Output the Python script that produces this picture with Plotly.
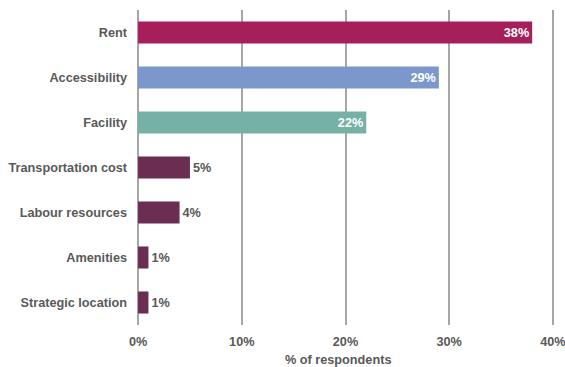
import plotly.graph_objects as go

categories = ["Rent", "Accessibility", "Facility", "Transportation cost",
              "Labour resources", "Amenities", "Strategic location"]
values = [38, 29, 22, 5, 4, 1, 1]
bar_colors = ["#A61E5A", "#7B97CB", "#76B1A6", "#6B2D52", "#6B2D52", "#6B2D52", "#6B2D52"]
label_pos = ["inside", "inside", "inside", "outside", "outside", "outside", "outside"]
label_colors = ["white", "white", "white", "#595959", "#595959", "#595959", "#595959"]
tick_vals = [0, 10, 20, 30, 40]
tick_text = ["0%", "10%", "20%", "30%", "40%"]
x_title = "% of respondents"

FONT = "Liberation Sans"
GREY = "#595959"
FS = 12.7

fig = go.Figure(go.Bar(
    y=categories,
    x=values,
    orientation="h",
    marker=dict(color=bar_colors, line=dict(width=0)),
    width=0.49,
    text=[f"{v}%" for v in values],
    textposition=label_pos,
    insidetextanchor="end",
    textfont=dict(family=FONT, size=FS, color=label_colors, weight="bold"),
    cliponaxis=False,
    constraintext="none",
))

fig.add_annotation(
    text=x_title, xref="paper", yref="paper", x=0.481, y=0,
    xanchor="center", yanchor="middle", yshift=-35, showarrow=False,
    font=dict(family=FONT, size=FS, color=GREY, weight="bold"),
)

fig.update_layout(
    width=565, height=367,
    margin=dict(l=136, r=10, t=10, b=42),
    plot_bgcolor="white", paper_bgcolor="white",
    showlegend=False,
    font=dict(family=FONT, size=FS, color=GREY, weight="bold"),
    xaxis=dict(
        range=[-0.2, 40.2], tickvals=tick_vals, ticktext=tick_text,
        showgrid=True, gridcolor="#A6A6A6", gridwidth=2,
        ticks="outside", ticklen=5, tickcolor="rgba(0,0,0,0)",
        zeroline=False, showline=False, automargin=False,
        ticklabeloverflow="allow",
        tickfont=dict(family=FONT, size=FS, color=GREY, weight="bold"),
        fixedrange=True,
    ),
    yaxis=dict(
        categoryorder="array", categoryarray=categories, autorange="reversed",
        showgrid=False, ticks="", ticklabelstandoff=8, automargin=False,
        tickfont=dict(family=FONT, size=FS, color=GREY, weight="bold"),
        fixedrange=True,
    ),
)

fig.write_html("out.html")
